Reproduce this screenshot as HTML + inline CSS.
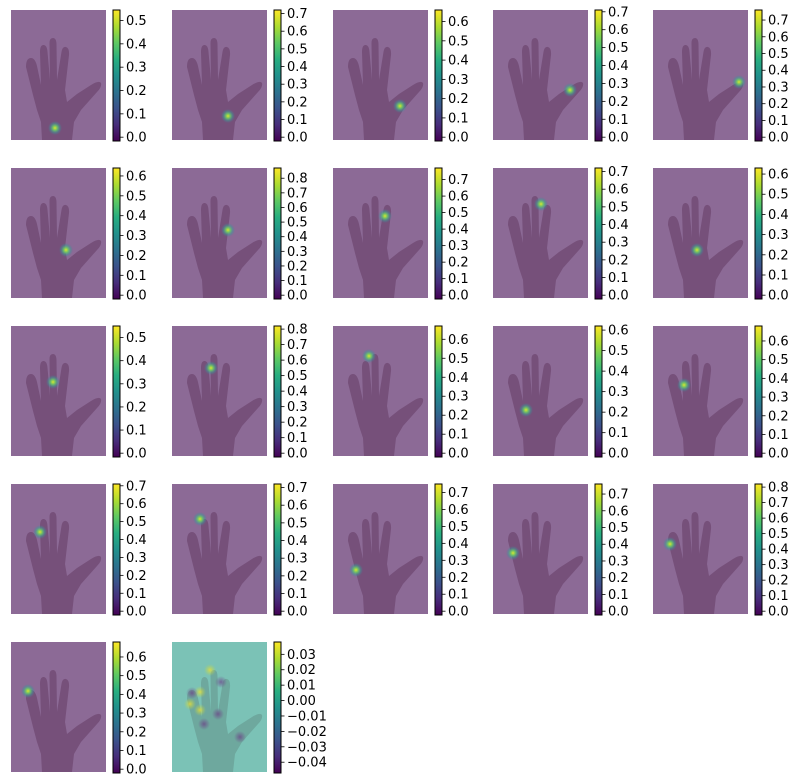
<!DOCTYPE html>
<html><head><meta charset="utf-8"><style>
body{margin:0;background:#fff;width:803px;height:783px;overflow:hidden;font-family:"DejaVu Sans","Liberation Sans",sans-serif}
svg{display:block}
</style></head><body>
<svg id="fig" width="803" height="783" xmlns="http://www.w3.org/2000/svg">
<defs>
<linearGradient id="viridis" x1="0" y1="1" x2="0" y2="0">
<stop offset="0" stop-color="#440154"/><stop offset="0.125" stop-color="#472d7b"/><stop offset="0.25" stop-color="#3b528b"/><stop offset="0.375" stop-color="#2c728e"/><stop offset="0.5" stop-color="#21918c"/><stop offset="0.625" stop-color="#28ae80"/><stop offset="0.75" stop-color="#5ec962"/><stop offset="0.875" stop-color="#addc30"/><stop offset="1" stop-color="#fde725"/>
</linearGradient>
<radialGradient id="spot"><stop offset="0" stop-color="#d8e830" stop-opacity="1"/><stop offset="0.35" stop-color="#6cc866" stop-opacity="0.9"/><stop offset="0.7" stop-color="#3a9a9a" stop-opacity="0.45"/><stop offset="1" stop-color="#3a8a9a" stop-opacity="0"/></radialGradient>
<radialGradient id="ypos"><stop offset="0" stop-color="#f0e030" stop-opacity="0.75"/><stop offset="1" stop-color="#c0d840" stop-opacity="0"/></radialGradient>
<radialGradient id="yneg"><stop offset="0" stop-color="#6a2a80" stop-opacity="0.6"/><stop offset="1" stop-color="#6a2a80" stop-opacity="0"/></radialGradient>
</defs>
</svg>
<script>
const vmaxes=[0.545,0.72,0.66,0.71,0.76,0.64,0.87,0.77,0.72,0.63,0.55,0.82,0.67,0.62,0.68,0.71,0.72,0.75,0.76,0.82,0.68];
const spotX=[44,56,67,77,86,55,56,52,48,44,42,39,36,33,31,29,28,23,20,17,17];
const spotY=[118,106,96,80,72,82,62,48,36,82,56,42,30,84,59,48,35,86,69,60,49];
const lastTicks=[-0.04,-0.03,-0.02,-0.01,0.00,0.01,0.02,0.03];
const lastMin=-0.047, lastMax=0.038;
const colX=[11,172,333,493,653], rowY=[10,168,326,484,642];
const W=95,H=130;
const NS="http://www.w3.org/2000/svg";
const svg=document.getElementById('fig');
function mk(t,a,p){const e=document.createElementNS(NS,t);for(const k in a)e.setAttribute(k,a[k]);(p||svg).appendChild(e);return e;}
const handPath="M31,130 L30,112 L26,100 L22,85 L15,57 Q15,48 20,48 Q24,48 26,56 L30,75 L29,42 Q29,35 32.5,35 Q36,35 36.5,42 L39,70 L38.5,33 Q38.5,28 42,28 Q45.5,28 45.5,35 L46,70 L50.5,42 Q51.5,36 55,37 Q58.5,38 58,45 L54,80 L56,92 L66,84 L80,75 Q88,70 90,73 Q91,77 86,82 L70,100 L63,112 L61,130 Z";
function panel(i,last){
  const x0=colX[i%5],y0=rowY[Math.floor(i/5)];
  const g=mk('g',{transform:`translate(${x0},${y0})`});
  
  
  mk('rect',{x:0,y:0,width:W,height:H,fill:last?'#7bc2b6':'#8c6a96'},g);
  mk('path',{d:handPath,fill:last?'#6ea89e':'#76507a'},g);
  if(!last){
    const s=mk('circle',{cx:spotX[i],cy:spotY[i],r:7,fill:'url(#spot)'},g);
    
    
  } else {
    [[18,62,'ypos'],[28,50,'ypos'],[38,28,'ypos'],[20,51,'yneg'],[49,40,'yneg'],[46,72,'yneg'],[32,82,'yneg'],[68,95,'yneg'],[28,68,'ypos']].forEach(p=>mk('circle',{cx:p[0],cy:p[1],r:6,fill:'url(#'+p[2]+')'},g));
  }
  const cb=mk('g',{transform:`translate(${W+7},0)`},g);
  
  
  const ch=131;
  mk('rect',{x:0,y:0,width:7,height:ch,fill:'url(#viridis)',stroke:'#000','stroke-width':1},cb);
  let vmin,vmax,ticks;
  if(last){vmin=lastMin;vmax=lastMax;ticks=lastTicks;}
  else{vmax=vmaxes[i];vmin=-0.03*vmax;ticks=[];for(let t=0;t<=vmax+1e-9;t+=0.1)ticks.push(Math.round(t*10)/10);}
  const sy=v=>ch-(v-vmin)/(vmax-vmin)*ch;
  ticks.forEach(t=>{
    const y=sy(t);
    mk('line',{x1:7,x2:10.5,y1:y,y2:y,stroke:'#000','stroke-width':0.8},cb);
    const tx=mk('text',{x:13,y:y+4.5,'font-size':13,fill:'#000'},cb);
    tx.textContent=last?((t<0?'\u2212':'')+Math.abs(t).toFixed(2)):t.toFixed(1);
    
    
  });
}
for(let i=0;i<21;i++)panel(i,false);
panel(21,true);
</script>
</body></html>
